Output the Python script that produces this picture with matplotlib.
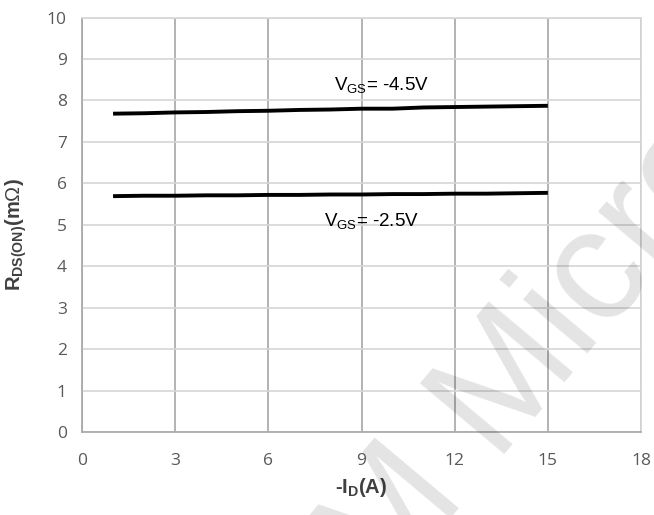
import matplotlib
matplotlib.use("Agg")
import matplotlib.pyplot as plt

plt.rcParams['mathtext.fontset'] = 'custom'
plt.rcParams['mathtext.rm'] = 'Liberation Sans'
plt.rcParams['mathtext.it'] = 'Liberation Sans'
plt.rcParams['mathtext.bf'] = 'Liberation Sans:bold'

# Drain current (A) and on-resistance (mOhm) for two gate voltages
id_a = [1, 2, 3, 4, 5, 6, 7, 8, 9, 10, 11, 12, 13, 14, 15]
rds_vgs45 = [7.68, 7.69, 7.71, 7.72, 7.74, 7.75, 7.77, 7.78, 7.80, 7.80, 7.83, 7.84, 7.85, 7.86, 7.87]
rds_vgs25 = [5.69, 5.70, 5.70, 5.71, 5.71, 5.72, 5.72, 5.73, 5.73, 5.74, 5.74, 5.75, 5.75, 5.76, 5.77]

x_ticks = [0, 3, 6, 9, 12, 15, 18]
y_ticks = [0, 1, 2, 3, 4, 5, 6, 7, 8, 9, 10]

fig = plt.figure(figsize=(6.54, 5.15), dpi=100)
ax = fig.add_axes([82 / 654, 1 - 432 / 515, (641 - 82) / 654, (432 - 17.5) / 515])

ax.set_xlim(0, 18)
ax.set_ylim(0, 10)
ax.set_xticks(x_ticks)
ax.set_yticks(y_ticks)
ax.set_xticklabels([str(v) for v in x_ticks], fontfamily='Open Sans', fontsize=12.5, color='#595959')
ax.set_yticklabels([str(v) for v in y_ticks], fontfamily='Open Sans', fontsize=12.5, color='#595959')
ax.tick_params(axis='x', length=0, pad=15)
ax.tick_params(axis='y', length=0, pad=11)

ax.yaxis.grid(True, color='#d6d6d6', lw=1.2)
ax.xaxis.grid(True, color='#a6a6a6', lw=1.2)
ax.set_axisbelow(True)
for side in ['top', 'right']:
    ax.spines[side].set_color('#d6d6d6')
    ax.spines[side].set_linewidth(1.2)
for side in ['left', 'bottom']:
    ax.spines[side].set_color('#a6a6a6')
    ax.spines[side].set_linewidth(1.2)

ax.plot(id_a, rds_vgs45, color='black', lw=2.8, solid_capstyle='butt')
ax.plot(id_a, rds_vgs25, color='black', lw=2.8, solid_capstyle='butt')

ax.text(8.1, 8.37, r'V$_{\mathrm{GS}}$= -4.5V', fontfamily='Liberation Sans', fontsize=13.5,
        va='center', ha='left')
ax.text(7.8, 5.1, r'V$_{\mathrm{GS}}$= -2.5V', fontfamily='Liberation Sans', fontsize=13.5,
        va='center', ha='left')

ax.set_xlabel(r'-I$_{\mathbf{D}}$(A)', fontfamily='Liberation Sans', fontweight='bold',
              fontsize=14.5, color='#404040', labelpad=5)
ax.set_ylabel(r'R$_{\mathbf{DS(ON)}}$(m$\Omega$)', fontfamily='Liberation Sans', fontweight='bold',
              fontsize=14.5, color='#404040')
ax.yaxis.set_label_coords(-0.095, 0.475)

fig.text(382 / 654, 1 - 600 / 515, 'M Micro', fontfamily='Liberation Sans', fontsize=115,
         color='#000000', alpha=0.11, rotation=50, rotation_mode='anchor',
         ha='left', va='baseline', zorder=10)

fig.savefig('out.png', dpi=100)
